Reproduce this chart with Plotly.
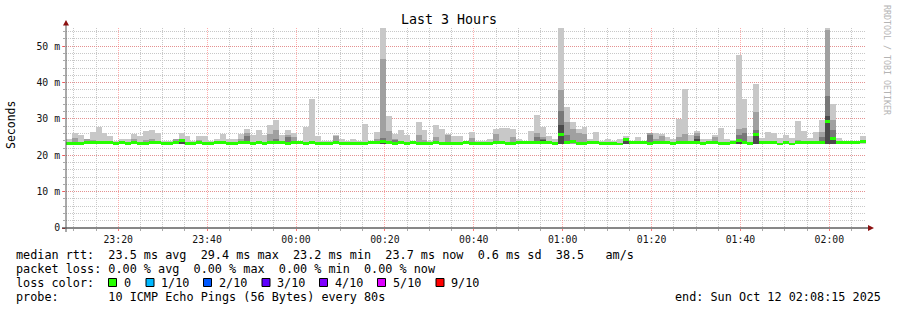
import plotly.graph_objects as go
from datetime import datetime, timedelta

# ---------------- data (ms) ----------------
smoke_max = [
    24.5, 26.2, 25.5, 24.6, 26.4, 27.8, 26.2, 25.3, 23.9, 24.4, 24.4, 25.8, 25.3, 26.6, 26.9,
    26.2, 24.0, 23.8, 24.6, 26.2, 25.3, 24.0, 25.4, 25.3, 23.8, 24.6, 25.8, 24.6, 24.4, 25.8,
    27.1, 25.6, 26.9, 25.6, 28.3, 29.7, 25.6, 26.9, 26.2, 24.0, 27.8, 35.4, 25.3, 23.8, 23.8,
    25.6, 24.6, 23.8, 24.4, 23.8, 28.6, 24.0, 26.4, 55.0, 30.8, 25.8, 26.9, 25.5, 23.9, 29.1,
    26.9, 23.8, 28.3, 27.3, 25.8, 25.3, 25.3, 23.8, 26.4, 23.8, 23.9, 24.6, 27.3, 27.6, 27.6,
    27.3, 24.6, 24.0, 26.6, 31.0, 27.8, 25.3, 24.6, 55.0, 33.2, 29.2, 27.1, 27.8, 24.6, 26.4,
    23.8, 24.4, 24.0, 24.4, 25.3, 23.8, 24.9, 24.0, 26.0, 26.0, 25.8, 24.9, 24.4, 30.1, 38.2,
    25.5, 26.6, 24.6, 24.4, 25.5, 27.4, 24.6, 24.2, 47.5, 35.5, 25.3, 39.6, 24.7, 26.5, 26.2,
    24.7, 25.5, 24.7, 29.4, 26.6, 24.7, 26.4, 29.7, 55.0, 34.1, 24.7, 23.8, 23.8, 23.8, 25.3,
]

smoke_min = [
    23.0, 23.0, 23.0, 23.1, 23.1, 23.0, 23.0, 23.0, 22.9, 23.0, 22.9, 23.0, 22.9, 22.9, 23.0,
    23.0, 22.9, 22.9, 23.1, 23.1, 23.0, 22.9, 23.0, 22.9, 23.0, 23.1, 23.1, 23.0, 22.9, 23.0,
    23.0, 23.0, 23.0, 23.0, 23.1, 23.1, 23.0, 23.0, 23.0, 23.0, 23.0, 23.0, 22.9, 23.0, 23.0,
    23.0, 23.0, 23.0, 22.9, 23.0, 23.0, 23.0, 23.1, 23.1, 23.0, 22.9, 23.0, 23.0, 23.0, 23.0,
    22.9, 23.0, 23.0, 22.9, 22.9, 23.0, 23.0, 23.0, 22.9, 23.0, 22.9, 23.0, 23.0, 23.0, 23.0,
    22.9, 23.0, 23.0, 23.1, 23.0, 23.1, 23.1, 23.0, 23.1, 23.1, 23.1, 23.0, 22.9, 23.0, 23.0,
    23.0, 22.9, 23.0, 22.8, 23.1, 23.0, 23.0, 23.0, 22.9, 23.0, 23.0, 23.0, 22.9, 23.0, 23.0,
    23.0, 23.0, 22.9, 23.0, 23.0, 22.9, 22.9, 23.0, 23.1, 23.1, 23.0, 23.1, 23.0, 23.0, 23.0,
    22.8, 23.0, 22.8, 23.1, 23.0, 23.0, 23.0, 23.0, 23.1, 23.1, 23.0, 23.0, 23.0, 23.0, 23.2,
]

median_rtt = [
    23.3, 23.3, 23.3, 23.5, 23.6, 23.4, 23.4, 23.4, 23.2, 23.4, 23.2, 23.4, 23.2, 23.2, 23.4,
    23.4, 23.2, 23.2, 23.5, 24.0, 23.3, 23.2, 23.4, 23.2, 23.3, 23.5, 23.6, 23.3, 23.2, 23.4,
    23.4, 23.3, 23.4, 23.3, 23.6, 23.6, 23.4, 23.3, 23.4, 23.4, 23.3, 23.4, 23.2, 23.3, 23.3,
    23.4, 23.3, 23.3, 23.2, 23.3, 23.3, 23.4, 23.5, 23.7, 23.4, 23.2, 23.4, 23.3, 23.4, 23.3,
    23.2, 23.3, 23.4, 23.2, 23.2, 23.3, 23.3, 23.4, 23.2, 23.3, 23.2, 23.3, 23.4, 23.4, 23.3,
    23.2, 23.4, 23.4, 23.6, 23.4, 23.5, 23.5, 23.3, 25.8, 23.6, 23.9, 23.3, 23.2, 23.4, 23.4,
    23.3, 23.2, 23.3, 23.1, 24.3, 23.4, 23.4, 23.4, 23.2, 23.4, 23.4, 23.4, 23.2, 23.4, 23.4,
    23.4, 23.4, 23.2, 23.4, 23.4, 23.2, 23.2, 23.4, 24.0, 23.5, 23.3, 25.8, 23.4, 23.4, 23.4,
    23.1, 23.4, 23.1, 23.5, 23.4, 23.4, 23.4, 23.4, 29.2, 24.5, 23.4, 23.4, 23.4, 23.4, 23.7,
]

mid_bins = [1, 3, 4, 11, 13, 14, 18, 22, 29, 30, 34, 35, 37, 38, 45, 52, 53, 54, 55, 59,
            60, 62, 64, 68, 72, 75, 79, 80, 83, 84, 85, 86, 87, 98, 99, 100, 103, 104, 106,
            109, 113, 114, 116, 123, 127, 128, 129]
mid_vals = [24.8, 24.5, 24.3, 24.6, 24.1, 24.6, 24.4, 24.2, 24.6, 26.0, 25.8, 26.9, 25.6, 25.0,
            25.3, 24.5, 46.6, 26.6, 24.5, 25.5, 24.2, 25.0, 25.5, 24.8, 25.8, 25.0, 26.2, 25.0,
            37.9, 29.2, 27.2, 26.2, 25.8, 26.0, 24.6, 25.3, 24.9, 25.8, 26.0, 24.9, 27.3, 27.5,
            31.9, 24.3, 26.4, 54.5, 29.7]

dark_bins = [4, 30, 35, 37, 53, 55, 79, 80, 83, 84, 98, 106, 113, 114, 116, 127, 128, 129]
dark_vals = [24.0, 25.3, 24.6, 24.9, 24.7, 24.2, 25.0, 24.4, 32.1, 25.5, 25.5, 25.3, 25.5, 26.0,
             26.9, 25.0, 36.3, 26.9]

core_bins = [19, 53, 80, 83, 94, 106, 113, 116, 128, 129]
core_vals = [24.0, 24.2, 24.2, 28.3, 24.3, 24.6, 24.3, 25.8, 30.8, 24.5]

y_tick_vals = [0, 10, 20, 30, 40, 50]
y_tick_text = ["0", "10 m", "20 m", "30 m", "40 m", "50 m"]

loss_labels = ["0", "1/10", "2/10", "3/10", "4/10", "5/10", "9/10"]
loss_colors = ["#26ff00", "#00b8ff", "#0059ff", "#5e00ff", "#7e00ff", "#dd00ff", "#ff0000"]

title_text = "Last 3 Hours"
line_rtt = "median rtt:  23.5 ms avg  29.4 ms max  23.2 ms min  23.7 ms now  0.6 ms sd  38.5   am/s"
line_loss = "packet loss: 0.00 % avg  0.00 % max  0.00 % min  0.00 % now"
line_color = "loss color:"
line_probe = "probe:       10 ICMP Echo Pings (56 Bytes) every 80s"
end_text = "end: Sun Oct 12 02:08:15 2025"
watermark = "RRDTOOL / TOBI OETIKER"

start = datetime(2025, 10, 11, 23, 8, 15)
end = datetime(2025, 10, 12, 2, 8, 15)
step_s = 80

# ---------------- geometry ----------------
W, H = 897, 310
L, R, T, B = 66, 31, 28, 82
PW = W - L - R
PH = H - T - B
MONO = "DejaVu Sans Mono"


def xp(px):
    return (px - L) / PW


def yp(py):
    return (H - B - py) / PH


n = len(median_rtt)
centers = [start + timedelta(seconds=step_s * (i + 0.5)) for i in range(n)]
wms = step_s * 1000

fig = go.Figure()


def band(idx, tops, color):
    fig.add_trace(go.Bar(
        x=[centers[i] for i in idx],
        base=[smoke_min[i] for i in idx],
        y=[t - smoke_min[i] for i, t in zip(idx, tops)],
        width=wms, marker=dict(color=color, line=dict(width=0)),
        hoverinfo="skip", showlegend=False))


band(list(range(n)), smoke_max, "#c8c8c8")
band(mid_bins, mid_vals, "#a0a0a0")
band(dark_bins, dark_vals, "#787878")
band(core_bins, core_vals, "#4a4a4a")

# median band
fig.add_trace(go.Bar(
    x=centers, base=[m - 0.41 for m in median_rtt], y=[0.82] * n,
    width=wms, marker=dict(color=loss_colors[0], line=dict(width=0)),
    hoverinfo="skip", showlegend=False))

fig.update_layout(
    width=W, height=H, autosize=False,
    margin=dict(l=L, r=R, t=T, b=B, pad=0),
    paper_bgcolor="white", plot_bgcolor="white",
    barmode="overlay", bargap=0,
    showlegend=False,
    font=dict(family=MONO, color="#000"),
)

fig.update_xaxes(
    type="date", range=[start, end],
    tickformat="%H:%M", dtick=1200000, tick0="2025-10-11 23:20:00",
    showgrid=True, gridcolor="rgba(255,90,90,0.5)", griddash="1px,1px", gridwidth=1,
    ticks="outside", ticklen=2, tickcolor="rgba(255,60,60,0.7)",
    tickfont=dict(family=MONO, size=9.8, color="#111"),
    minor=dict(dtick=300000, tick0="2025-10-11 23:20:00", showgrid=True,
               gridcolor="#c8c8c8", griddash="1px,1px", ticks="outside", ticklen=2,
               tickcolor="#aaaaaa"),
    zeroline=False, showline=False, fixedrange=True,
)
fig.update_yaxes(
    range=[0, 55], tickvals=y_tick_vals, ticktext=y_tick_text,
    showgrid=True, gridcolor="rgba(255,90,90,0.5)", griddash="1px,1px", gridwidth=1,
    ticks="outside", ticklen=3, tickcolor="rgba(255,60,60,0.7)",
    tickfont=dict(family=MONO, size=9.8, color="#111"),
    minor=dict(dtick=2, tick0=0, showgrid=True, gridcolor="#c8c8c8", griddash="1px,1px",
               ticks="outside", ticklen=2, tickcolor="#aaaaaa"),
    zeroline=False, showline=False, fixedrange=True,
)

shapes = []
# axes lines
shapes.append(dict(type="line", xref="paper", yref="paper", x0=xp(62), x1=xp(869),
                   y0=yp(228), y1=yp(228), line=dict(color="#111", width=1), layer="above"))
shapes.append(dict(type="line", xref="paper", yref="paper", x0=xp(66), x1=xp(66),
                   y0=yp(232), y1=yp(24), line=dict(color="#555", width=1), layer="above"))
# arrows
shapes.append(dict(type="path", xref="paper", yref="paper",
                   path=f"M {xp(63)} {yp(25.5)} L {xp(69)} {yp(25.5)} L {xp(66)} {yp(20)} Z",
                   fillcolor="#8b1010", line=dict(width=0), layer="above"))
shapes.append(dict(type="path", xref="paper", yref="paper",
                   path=f"M {xp(868)} {yp(225)} L {xp(868)} {yp(231)} L {xp(874)} {yp(228)} Z",
                   fillcolor="#8b1010", line=dict(width=0), layer="above"))

# loss colour boxes
box_x = [108.5, 146, 203.5, 262, 319.5, 377.5, 436]
label_x = [124, 161, 218.5, 277, 334.5, 392.5, 451]
for bx, col in zip(box_x, loss_colors):
    shapes.append(dict(type="rect", xref="paper", yref="paper",
                       x0=xp(bx), x1=xp(bx + 8), y0=yp(278.5), y1=yp(286.5),
                       fillcolor=col, line=dict(color="#000", width=1), layer="above"))

fig.update_layout(shapes=shapes)


def nb(s):
    return s.replace(" ", "\u00a0")


def ann(text, x, y, size=11.8, xanchor="left", color="#000", angle=0):
    fig.add_annotation(text=nb(text), x=xp(x), y=yp(y), xref="paper", yref="paper",
                       xanchor=xanchor, yanchor="middle", showarrow=False,
                       font=dict(family=MONO, size=size, color=color),
                       textangle=angle, borderpad=0, borderwidth=0)


ann(title_text, 448.5, 19.5, size=13.3, xanchor="center")
ann(line_rtt, 16, 254.5)
ann(line_loss, 16, 268.5)
ann(line_color, 16, 282.5)
for lx, lab in zip(label_x, loss_labels):
    ann(lab, lx, 282.5)
ann(line_probe, 16, 296.5)
ann(end_text, 880.5, 296.5, xanchor="right")
ann("Seconds", 11, 125, size=11.5, xanchor="center", angle=-90)
ann(watermark, 887, 60, size=8.3, xanchor="center", color="#b4b4b4", angle=90)

fig.write_html("out.html")
